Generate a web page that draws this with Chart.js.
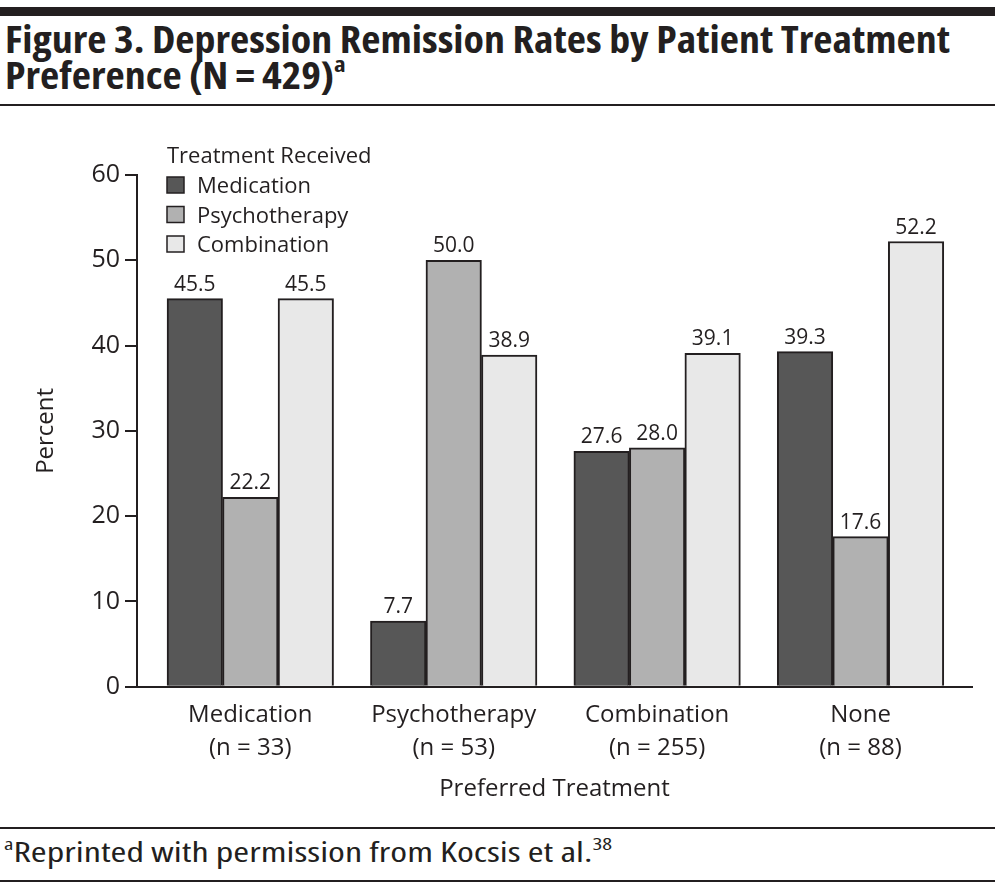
<!DOCTYPE html>
<html>
<head>
<meta charset="utf-8">
<script src="https://cdn.jsdelivr.net/npm/chart.js@4.4.1/dist/chart.umd.min.js"></script>
<style>
  body { margin: 0; background: #fff; }
  #page { position: relative; width: 995px; height: 888px; overflow: hidden; color: #231f20; }
  .rule { position: absolute; left: 0; width: 995px; background: #231f20; }
  #title {
    position: absolute; left: 5px; top: 21px; margin: 0;
    font-family: "Open Sans", sans-serif; font-weight: 700; font-size: 37px; line-height: 36px;
    font-stretch: 75%; white-space: nowrap; transform-origin: 0 0;
  }
  #title sup, #note sup { font-size: 60%; line-height: 0; vertical-align: 0.75em; }
  #note {
    position: absolute; left: 4px; top: 836px; margin: 0;
    font-family: "Open Sans", sans-serif; font-size: 27px; line-height: 32px;
    font-stretch: 75%; white-space: nowrap; transform-origin: 0 0;
  }
  #wrap { position: absolute; left: 0; top: 110px; width: 995px; height: 712px; }
</style>
</head>
<body>
<div id="page">
  <div class="rule" style="top:7px;height:9px"></div>
  <h1 id="title"><span id="t1">Figure 3. Depression Remission Rates by Patient Treatment</span><br><span id="t2">Preference (N&#8201;=&#8201;429)<sup>a</sup></span></h1>
  <div class="rule" style="top:104px;height:2px"></div>
  <div id="wrap"><canvas id="myChart"></canvas></div>
  <div class="rule" style="top:827px;height:2px"></div>
  <p id="note"><sup>a</sup>Reprinted with permission from Kocsis et al.<sup>38</sup></p>
  <div class="rule" style="top:880px;height:2px"></div>
</div>
<script>
// preferred treatment groups (x axis)
const categories = [
    ['Medication', '(n = 33)'],
    ['Psychotherapy', '(n = 53)'],
    ['Combination', '(n = 255)'],
    ['None', '(n = 88)']
];
// treatment received (legend)
const seriesNames = ['Medication', 'Psychotherapy', 'Combination'];
const medication = [45.5, 7.7, 27.6, 39.3];
const psychotherapy = [22.2, 50.0, 28.0, 17.6];
const combination = [45.5, 38.9, 39.1, 52.2];
const yTicks = [0, 10, 20, 30, 40, 50, 60];

const colors = ['#575757', '#b1b1b1', '#e8e8e8'];
const ink = '#231f20';
const font = '"Open Sans", sans-serif';

// squeeze header / footnote to the printed width
function fitText() {
    const t = document.getElementById('title');
    t.style.transform = 'none';
    const w1 = document.getElementById('t1').getBoundingClientRect().width;
    t.style.transform = 'scaleX(' + (945 / w1) + ')';
    const n = document.getElementById('note');
    n.style.transform = 'none';
    const w2 = n.getBoundingClientRect().width;
    n.style.transform = 'scaleX(' + (608 / w2) + ')';
}
fitText();
document.fonts.ready.then(fitText);

//value labels above the bars
const barLabels = {
    id: 'barLabels',
    afterDatasetsDraw(chart) {
        const ctx = chart.ctx;
        ctx.save();
        ctx.font = '21px ' + font;
        ctx.fillStyle = ink;
        ctx.textAlign = 'center';
        ctx.textBaseline = 'alphabetic';
        chart.data.datasets.forEach((ds, i) => {
            chart.getDatasetMeta(i).data.forEach((bar, j) => {
                ctx.fillText(ds.data[j].y.toFixed(1), bar.x, bar.y - 8);
            });
        });
        ctx.restore();
    }
};

//legend drawn inside the plot, top left
const boxLegend = {
    id: 'boxLegend',
    afterDraw(chart) {
        const ctx = chart.ctx;
        const left = chart.chartArea.left + 30;
        const top = chart.chartArea.top;
        ctx.save();
        ctx.fillStyle = ink;
        ctx.textBaseline = 'alphabetic';
        ctx.font = '22px ' + font;
        ctx.fillText('Treatment Received', left, top - 12);
        chart.data.datasets.forEach((ds, i) => {
            const cy = top + 10 + i * 29.5;
            ctx.fillStyle = ds.backgroundColor;
            ctx.fillRect(left, cy - 8, 17, 16);
            ctx.strokeStyle = ink;
            ctx.lineWidth = 1.5;
            ctx.strokeRect(left, cy - 8, 17, 16);
            ctx.fillStyle = ink;
            ctx.fillText(ds.label, left + 30, cy + 8);
        });
        ctx.restore();
    }
};

const series = [medication, psychotherapy, combination];
const ctx = document.getElementById('myChart');
new Chart(ctx, {
    type: 'bar',
    data: {
        datasets: series.map((vals, i) => ({
            label: seriesNames[i],
            data: vals.map((v, j) => ({ x: j, y: v })),
            backgroundColor: colors[i],
            borderColor: ink,
            borderWidth: 2,
            barThickness: 55.5
        }))
    },
    options: {
        responsive: true,
        maintainAspectRatio: false,
        animation: false,
        layout: { padding: { top: 65, right: 23, bottom: 21, left: 0 } },
        plugins: {
            legend: { display: false },
            tooltip: { enabled: false }
        },
        scales: {
            x: {
                type: 'linear',
                offset: false,
                min: -0.557,
                max: 3.548,
                grid: { display: false, drawTicks: false, offset: false },
                border: { color: ink, width: 2 },
                ticks: {
                    stepSize: 1,
                    includeBounds: false,
                    autoSkip: false,
                    maxRotation: 0,
                    padding: 12,
                    color: ink,
                    font: { size: 24, family: font, lineHeight: 1.38 },
                    callback: v => Number.isInteger(v) && categories[v] ? categories[v] : ''
                },
                title: {
                    display: true,
                    text: 'Preferred Treatment',
                    color: ink,
                    font: { size: 24, family: font, lineHeight: 1 },
                    padding: { top: 0, bottom: 0 }
                }
            },
            y: {
                min: yTicks[0],
                max: yTicks[yTicks.length - 1],
                afterBuildTicks: scale => { scale.ticks = yTicks.map(v => ({ value: v })); },
                afterFit: scale => { scale.width = 137; },
                grid: { drawOnChartArea: false, tickLength: 12, color: ink, lineWidth: 2 },
                border: { color: ink, width: 2 },
                ticks: {
                    padding: 5,
                    color: ink,
                    font: { size: 25, family: font }
                },
                title: {
                    display: true,
                    text: 'Percent',
                    color: ink,
                    font: { size: 24, family: font },
                    padding: { top: 32, bottom: 0 }
                }
            }
        }
    },
    plugins: [barLabels, boxLegend]
});
</script>
</body>
</html>
